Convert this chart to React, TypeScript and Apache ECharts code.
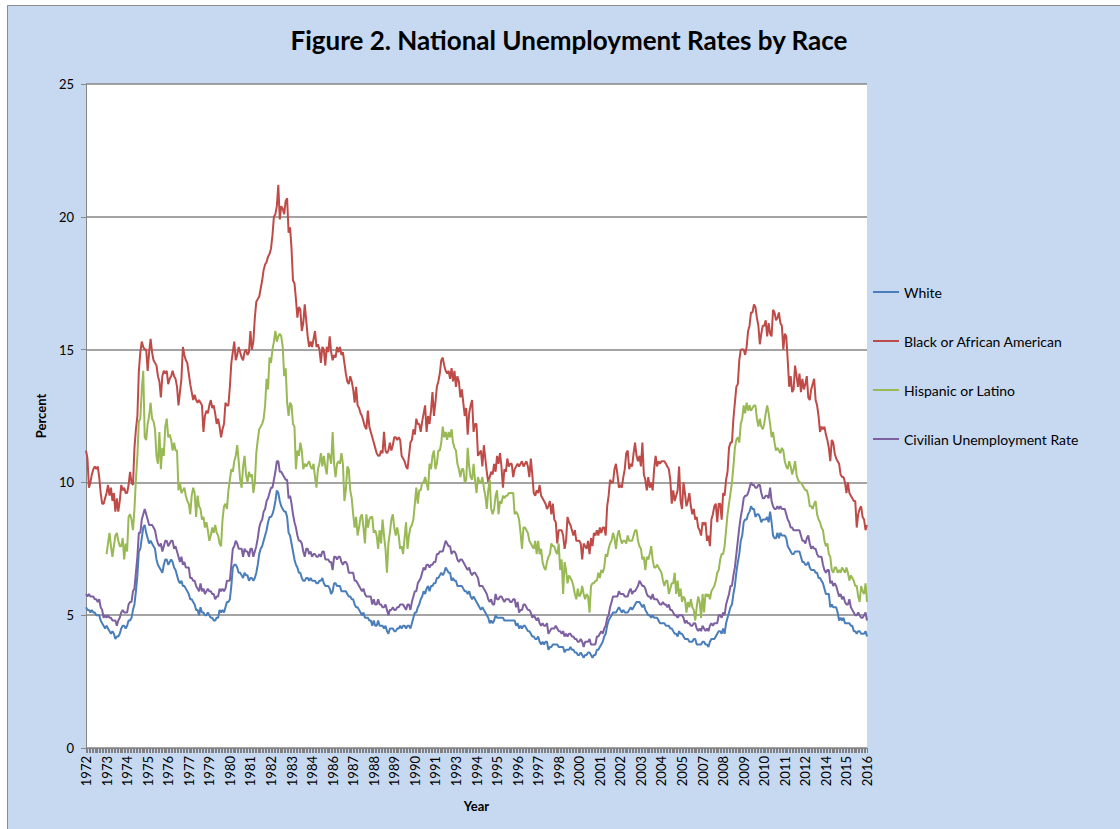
import React, { useEffect, useRef } from "react";
import * as echarts from "echarts";

// Monthly observations, January 1972 to May 2016
const START_YEAR = 1972;
const MONTH_COUNT = 533;
const categories: string[] = Array.from({ length: MONTH_COUNT }, (_, i) => String(START_YEAR + Math.floor(i / 12)));

const seriesNames = ["White", "Black or African American", "Hispanic or Latino", "Civilian Unemployment Rate"];

const white: number[] = [
  5.3, 5.2, 5.2, 5.1, 5.2, 5.1, 5.1, 5.0, 5.0, 5.0, 4.8, 4.7,
  4.6, 4.5, 4.6, 4.5, 4.4, 4.3, 4.4, 4.3, 4.1, 4.2, 4.2, 4.3,
  4.5, 4.6, 4.6, 4.5, 4.6, 4.8, 4.8, 4.9, 5.2, 5.4, 5.9, 6.5,
  7.4, 7.5, 7.9, 8.3, 8.4, 8.1, 7.9, 7.7, 7.8, 7.7, 7.6, 7.5,
  7.1, 6.9, 6.8, 6.7, 6.6, 6.9, 7.1, 7.1, 6.9, 7.0, 7.1, 7.0,
  6.8, 6.7, 6.5, 6.3, 6.2, 6.3, 6.1, 6.1, 6.0, 5.9, 5.8, 5.6,
  5.6, 5.5, 5.4, 5.2, 5.2, 5.0, 5.3, 5.1, 5.1, 5.0, 5.0, 5.1,
  5.0, 4.9, 4.9, 4.8, 4.8, 4.9, 4.9, 5.2, 5.1, 5.2, 5.1, 5.3,
  5.5, 5.5, 5.6, 6.1, 6.8, 6.9, 6.9, 6.8, 6.6, 6.6, 6.5, 6.4,
  6.6, 6.5, 6.5, 6.3, 6.4, 6.4, 6.3, 6.4, 6.6, 6.9, 7.3, 7.5,
  7.6, 7.8, 8.0, 8.2, 8.5, 8.7, 8.7, 8.8, 9.0, 9.3, 9.7, 9.6,
  9.3, 9.1, 9.0, 8.9, 8.9, 8.7, 8.1, 8.0, 7.7, 7.4, 7.1, 6.9,
  6.8, 6.6, 6.6, 6.4, 6.3, 6.3, 6.4, 6.4, 6.3, 6.4, 6.3, 6.3,
  6.3, 6.2, 6.2, 6.3, 6.3, 6.4, 6.2, 6.1, 6.1, 6.1, 6.0, 5.8,
  5.9, 6.2, 6.2, 6.1, 6.1, 6.1, 5.9, 5.9, 5.9, 5.9, 5.8, 5.7,
  5.7, 5.6, 5.6, 5.4, 5.3, 5.3, 5.2, 5.1, 5.0, 5.1, 4.9, 4.9,
  4.9, 4.8, 4.8, 4.6, 4.8, 4.6, 4.6, 4.8, 4.6, 4.6, 4.6, 4.5,
  4.6, 4.4, 4.3, 4.5, 4.5, 4.5, 4.4, 4.4, 4.5, 4.5, 4.6, 4.5,
  4.6, 4.6, 4.5, 4.6, 4.6, 4.5, 4.7, 4.9, 5.1, 5.1, 5.3, 5.4,
  5.6, 5.7, 5.9, 5.8, 6.0, 6.1, 5.9, 6.1, 6.1, 6.2, 6.2, 6.4,
  6.4, 6.5, 6.6, 6.5, 6.6, 6.8, 6.7, 6.6, 6.6, 6.3, 6.4, 6.3,
  6.3, 6.1, 6.1, 6.1, 6.1, 6.0, 5.9, 5.9, 5.8, 5.9, 5.7, 5.6,
  5.7, 5.6, 5.5, 5.4, 5.3, 5.2, 5.3, 5.2, 5.1, 5.0, 4.9, 4.7,
  4.8, 4.7, 4.8, 5.0, 4.9, 4.9, 4.9, 4.9, 4.9, 4.8, 4.8, 4.8,
  4.8, 4.8, 4.8, 4.8, 4.8, 4.6, 4.7, 4.5, 4.6, 4.5, 4.6, 4.6,
  4.5, 4.4, 4.4, 4.3, 4.2, 4.2, 4.1, 4.1, 4.2, 4.0, 3.9, 4.0,
  3.9, 4.0, 4.0, 3.7, 3.8, 3.8, 3.9, 3.9, 3.9, 3.9, 3.8, 3.8,
  3.8, 3.8, 3.6, 3.7, 3.7, 3.7, 3.8, 3.7, 3.7, 3.6, 3.6, 3.5,
  3.5, 3.6, 3.5, 3.4, 3.5, 3.5, 3.6, 3.6, 3.5, 3.4, 3.5, 3.5,
  3.7, 3.7, 3.8, 3.9, 4.0, 4.2, 4.3, 4.6, 4.8, 4.9, 5.0, 5.1,
  5.1, 5.1, 5.2, 5.3, 5.2, 5.1, 5.2, 5.1, 5.1, 5.1, 5.2, 5.3,
  5.2, 5.3, 5.4, 5.5, 5.5, 5.5, 5.4, 5.3, 5.4, 5.2, 5.1, 5.0,
  5.0, 4.9, 5.0, 4.9, 4.9, 4.9, 4.8, 4.7, 4.7, 4.7, 4.7, 4.6,
  4.6, 4.6, 4.5, 4.5, 4.4, 4.3, 4.3, 4.2, 4.4, 4.3, 4.3, 4.2,
  4.1, 4.1, 4.1, 4.0, 4.0, 4.0, 4.1, 4.1, 3.9, 3.9, 3.9, 3.9,
  4.0, 4.0, 3.9, 3.9, 3.8, 4.0, 4.1, 4.1, 4.1, 4.2, 4.3, 4.4,
  4.4, 4.3, 4.5, 4.3, 4.7, 4.9, 5.1, 5.3, 5.4, 5.8, 6.1, 6.6,
  7.0, 7.3, 7.8, 8.0, 8.5, 8.6, 8.6, 8.8, 8.9, 9.1, 9.0, 9.0,
  8.7, 8.8, 8.8, 8.7, 8.5, 8.6, 8.6, 8.6, 8.7, 8.5, 8.9, 8.5,
  8.0, 7.9, 7.9, 8.1, 7.9, 8.1, 8.0, 8.0, 8.0, 7.9, 7.6, 7.5,
  7.4, 7.3, 7.3, 7.4, 7.4, 7.4, 7.4, 7.2, 7.0, 7.0, 6.9, 6.9,
  7.0, 6.8, 6.7, 6.7, 6.7, 6.6, 6.6, 6.4, 6.4, 6.3, 6.2, 6.0,
  5.8, 5.8, 5.8, 5.3, 5.4, 5.3, 5.3, 5.3, 5.1, 4.8, 4.9, 4.8,
  4.9, 4.7, 4.7, 4.7, 4.7, 4.6, 4.6, 4.4, 4.4, 4.3, 4.4, 4.4,
  4.3, 4.3, 4.3, 4.4, 4.2,
];

const black: number[] = [
  11.2, 10.9, 9.8, 10.0, 10.3, 10.5, 10.6, 10.5, 10.6, 10.2, 9.6, 9.2,
  9.2, 9.4, 9.6, 9.9, 9.5, 9.8, 9.3, 9.6, 8.9, 9.4, 8.9, 9.3,
  9.9, 9.7, 9.8, 9.6, 9.6, 9.9, 10.4, 10.0, 9.9, 11.3, 12.0, 12.5,
  14.2, 14.9, 15.3, 15.1, 15.0, 15.0, 14.2, 14.9, 15.4, 14.9, 14.6, 14.5,
  14.4, 14.0, 13.8, 13.2, 14.0, 14.2, 14.1, 14.2, 13.7, 13.9, 14.0, 14.2,
  14.0, 13.9, 13.6, 12.9, 13.4, 13.9, 15.1, 14.8, 14.6, 14.5, 14.1, 13.7,
  13.4, 13.1, 13.3, 13.1, 13.0, 13.1, 13.0, 12.9, 11.9, 12.5, 12.7, 12.6,
  12.9, 13.1, 12.8, 12.9, 12.6, 12.2, 12.4, 12.1, 11.7, 12.0, 12.2, 13.0,
  12.9, 12.9, 13.6, 14.5, 14.9, 15.3, 14.6, 14.8, 15.1, 14.9, 14.7, 14.6,
  14.9, 15.0, 14.8, 14.9, 15.7, 15.0, 15.3, 16.2, 16.8, 16.9, 17.0, 17.3,
  17.6, 18.0, 18.2, 18.3, 18.5, 18.6, 18.8, 19.3, 20.0, 20.1, 20.4, 21.2,
  19.9, 20.4, 20.3, 20.1, 20.6, 20.7, 19.4, 19.6, 18.8, 17.6, 17.5, 16.9,
  16.2, 16.6, 16.5, 15.7, 16.0, 16.7, 16.1, 15.5, 15.1, 15.3, 15.1, 15.4,
  15.7, 15.1, 15.2, 15.0, 14.5, 15.1, 15.0, 14.4, 15.1, 14.9, 15.5, 14.9,
  14.6, 14.8, 14.7, 15.1, 14.9, 15.1, 14.8, 14.9, 14.5, 14.1, 13.8, 13.7,
  14.0, 13.8, 13.5, 13.0, 13.6, 12.9, 12.8, 12.6, 12.5, 12.3, 12.1, 12.0,
  12.7, 12.1, 11.9, 11.7, 11.5, 11.3, 11.1, 11.0, 11.0, 11.2, 11.1, 11.9,
  11.2, 11.1, 11.2, 11.5, 11.2, 11.4, 11.7, 11.7, 11.6, 11.7, 11.6, 11.0,
  10.9, 10.8, 10.6, 10.5, 11.0, 11.5, 11.6, 12.0, 11.8, 12.4, 12.2, 12.2,
  11.9, 12.3, 12.6, 12.9, 11.9, 12.5, 12.2, 12.7, 13.4, 12.5, 13.0, 13.6,
  13.8, 14.1, 14.6, 14.7, 14.4, 14.2, 14.1, 14.2, 13.9, 14.3, 13.8, 14.2,
  13.6, 14.0, 13.8, 13.2, 13.5, 13.0, 12.5, 12.8, 11.8, 12.6, 12.9, 13.1,
  11.9, 12.2, 12.2, 11.0, 11.1, 11.2, 10.6, 11.4, 10.9, 10.4, 10.0, 10.2,
  10.4, 10.3, 10.7, 10.4, 11.0, 10.7, 11.1, 10.6, 9.8, 10.5, 10.4, 10.9,
  10.6, 10.7, 10.7, 10.2, 10.5, 10.6, 10.7, 10.6, 10.7, 10.8, 10.6, 10.7,
  10.8, 10.6, 10.2, 10.9, 10.3, 9.6, 9.5, 9.7, 9.6, 9.9, 9.5, 9.4,
  9.3, 9.2, 9.0, 9.1, 9.3, 8.8, 9.2, 8.6, 8.5, 7.7, 8.2, 8.2,
  8.2, 8.0, 7.5, 7.8, 8.7, 8.5, 8.4, 8.2, 8.0, 8.2, 7.8, 7.8,
  7.8, 7.7, 7.1, 7.7, 7.6, 7.5, 7.8, 7.3, 7.9, 7.6, 8.1, 8.0,
  8.2, 8.0, 8.3, 8.1, 8.3, 8.3, 8.0, 9.1, 9.5, 10.1, 10.0, 10.0,
  10.5, 10.7, 10.3, 9.8, 9.9, 9.8, 10.2, 10.5, 11.1, 11.2, 10.5, 10.7,
  10.6, 11.1, 11.5, 11.0, 10.8, 11.0, 10.6, 11.5, 10.3, 10.1, 9.7, 10.2,
  9.8, 10.0, 9.7, 10.5, 11.0, 10.6, 10.8, 10.7, 10.8, 10.8, 10.8, 10.7,
  10.6, 10.5, 10.1, 9.2, 9.7, 9.3, 9.5, 9.7, 10.6, 9.3, 9.0, 10.0,
  9.6, 9.1, 9.3, 9.6, 9.1, 8.8, 9.0, 8.6, 8.7, 8.3, 8.2, 8.0,
  8.5, 8.4, 8.5, 7.8, 8.0, 7.6, 8.6, 8.8, 9.1, 9.2, 8.5, 9.2,
  9.2, 8.6, 9.6, 9.5, 10.1, 10.4, 11.3, 11.5, 11.5, 12.4, 13.0, 13.6,
  13.7, 14.6, 15.0, 15.0, 15.0, 14.8, 15.1, 15.7, 15.9, 16.4, 16.4, 16.7,
  16.6, 16.2, 15.9, 15.2, 15.6, 15.9, 15.9, 16.1, 15.5, 16.0, 15.6, 15.5,
  16.5, 16.4, 16.1, 16.2, 16.4, 16.0, 15.9, 15.0, 15.6, 15.5, 14.6, 13.6,
  14.0, 13.4, 13.5, 14.4, 14.0, 13.6, 14.1, 13.4, 13.9, 13.5, 13.7, 14.0,
  13.2, 13.1, 13.5, 13.7, 13.9, 13.1, 12.9, 12.5, 11.9, 12.1, 12.0, 12.1,
  11.8, 11.6, 11.3, 10.8, 11.6, 11.5, 11.1, 10.9, 10.8, 10.7, 10.3, 10.2,
  10.2, 10.0, 9.6, 10.0, 9.6, 9.5, 9.4, 9.3, 9.3, 8.3, 8.8, 9.0,
  9.1, 8.7, 8.6, 8.2, 8.4,
];

const hispanic: (number | null)[] = [
  null, null, null, null, null, null, null, null, null, null, null, null,
  null, null, 7.3, 7.7, 8.1, 7.6, 7.2, 7.6, 8.0, 8.1, 7.8, 7.6,
  7.6, 7.9, 7.1, 7.7, 7.4, 8.7, 8.8, 8.6, 8.2, 9.0, 10.1, 11.0,
  12.3, 12.4, 13.5, 14.2, 11.7, 11.6, 12.2, 12.5, 13.0, 12.4, 12.3, 12.0,
  11.0, 10.7, 11.9, 10.5, 11.3, 11.0, 12.1, 12.4, 11.7, 11.8, 11.6, 11.2,
  11.5, 11.2, 11.2, 9.7, 10.0, 9.6, 9.7, 9.8, 9.5, 9.3, 9.2, 8.8,
  9.5, 9.8, 9.6, 8.7, 9.5, 9.1, 9.0, 8.6, 8.7, 8.3, 8.5, 8.2,
  7.8, 8.0, 8.3, 8.1, 8.4, 8.1, 8.0, 7.7, 7.6, 8.6, 9.1, 9.2,
  9.0, 9.7, 10.1, 10.5, 10.4, 10.8, 11.0, 11.4, 10.8, 10.1, 9.8, 10.6,
  11.0, 10.3, 10.0, 10.4, 10.2, 10.3, 9.6, 10.0, 11.1, 11.6, 12.0, 12.1,
  12.2, 12.4, 12.9, 13.9, 13.5, 14.7, 14.5, 15.0, 15.3, 15.7, 15.3, 15.5,
  15.6, 15.5, 15.1, 14.0, 14.3, 13.0, 12.5, 13.0, 12.9, 12.2, 12.1, 10.5,
  11.2, 11.0, 11.5, 11.2, 10.5, 10.7, 10.6, 10.7, 10.8, 10.6, 10.5, 10.7,
  10.2, 9.8, 10.5, 10.7, 11.1, 10.6, 11.0, 10.6, 10.3, 11.1, 11.0, 10.7,
  11.9, 10.7, 10.2, 10.7, 10.8, 10.7, 11.1, 10.7, 9.3, 9.7, 10.6, 10.5,
  9.7, 9.4, 8.8, 8.3, 8.7, 8.0, 8.3, 8.7, 8.8, 8.3, 7.7, 8.8,
  8.3, 8.6, 8.7, 8.7, 8.1, 8.2, 8.0, 7.5, 8.2, 7.7, 8.6, 8.0,
  7.5, 6.6, 7.7, 8.1, 8.6, 8.8, 8.3, 8.0, 8.3, 8.0, 7.5, 7.6,
  7.3, 7.9, 8.5, 7.5, 8.0, 8.3, 8.4, 8.6, 9.2, 9.8, 9.2, 9.7,
  9.7, 10.0, 10.0, 10.2, 10.0, 9.7, 10.7, 10.5, 11.0, 11.2, 10.5, 10.7,
  11.2, 11.2, 11.5, 12.1, 11.7, 11.9, 11.6, 11.9, 11.7, 12.0, 11.5, 11.3,
  11.2, 10.7, 10.5, 10.2, 10.5, 10.5, 10.0, 10.1, 11.3, 10.6, 10.2, 10.1,
  10.7, 10.1, 9.6, 10.2, 10.0, 10.0, 10.2, 9.8, 9.5, 9.0, 9.7, 10.1,
  9.0, 8.8, 9.0, 9.5, 9.7, 8.8, 9.3, 9.2, 9.5, 9.4, 9.5, 9.5,
  9.6, 9.6, 9.6, 9.6, 8.8, 8.9, 8.8, 8.6, 8.1, 7.5, 8.3, 8.3,
  8.2, 8.1, 7.8, 7.7, 7.6, 7.5, 7.8, 7.3, 7.8, 7.3, 7.5, 7.0,
  6.8, 6.7, 7.0, 7.2, 7.3, 7.7, 7.6, 7.6, 7.4, 7.3, 7.7, 6.7,
  7.1, 5.8, 7.0, 6.7, 6.2, 6.5, 6.4, 6.3, 6.1, 5.8, 5.6, 6.0,
  5.7, 5.8, 6.1, 5.8, 5.6, 5.8, 5.7, 5.1, 6.1, 6.2, 6.2, 6.3,
  6.3, 6.6, 6.4, 6.7, 6.6, 6.8, 7.3, 7.2, 7.5, 7.7, 7.8, 8.1,
  7.9, 7.5, 8.0, 8.2, 7.9, 7.7, 7.8, 7.8, 7.7, 8.0, 7.8, 7.8,
  7.8, 8.0, 8.2, 8.2, 7.8, 7.6, 7.5, 7.1, 7.2, 6.7, 7.2, 7.1,
  7.3, 7.6, 7.1, 6.8, 6.8, 6.9, 6.8, 6.7, 6.6, 6.3, 6.1, 6.3,
  6.3, 5.8, 6.0, 6.2, 6.2, 6.6, 5.8, 6.3, 5.7, 6.0, 5.5, 5.7,
  5.6, 5.1, 5.5, 5.3, 5.6, 5.3, 5.2, 4.8, 5.3, 5.7, 5.5, 4.9,
  5.8, 5.1, 5.8, 5.7, 5.8, 5.6, 5.9, 6.0, 6.1, 6.3, 6.6, 6.7,
  7.1, 7.3, 7.3, 7.6, 8.2, 8.8, 9.2, 9.6, 10.0, 10.6, 11.3, 11.6,
  11.7, 11.5, 12.2, 12.4, 12.9, 12.6, 13.0, 12.7, 12.9, 12.7, 12.8, 12.9,
  12.9, 12.4, 12.1, 12.4, 12.1, 12.0, 12.2, 12.6, 12.9, 12.6, 12.2, 11.7,
  11.9, 11.5, 11.2, 11.3, 11.2, 11.1, 11.3, 11.2, 10.8, 10.6, 10.5, 10.8,
  10.6, 10.3, 10.5, 10.8, 10.3, 10.1, 10.0, 10.0, 9.9, 9.8, 9.7, 9.7,
  9.5, 9.1, 9.1, 9.0, 9.2, 9.3, 8.8, 8.6, 8.5, 8.3, 8.2, 7.8,
  7.6, 7.7, 7.3, 7.2, 6.7, 6.6, 6.8, 6.8, 6.6, 6.7, 6.6, 6.8,
  6.7, 6.6, 6.8, 6.6, 6.3, 6.5, 6.4, 6.3, 6.1, 6.1, 5.7, 5.5,
  6.1, 5.9, 5.8, 6.2, 5.5,
];

const civilian: number[] = [
  5.8, 5.7, 5.8, 5.7, 5.7, 5.7, 5.6, 5.6, 5.5, 5.6, 5.3, 5.2,
  4.9, 5.0, 4.9, 5.0, 4.9, 4.9, 4.8, 4.8, 4.8, 4.6, 4.8, 4.9,
  5.1, 5.2, 5.1, 5.1, 5.1, 5.4, 5.5, 5.5, 5.9, 6.0, 6.6, 7.2,
  8.1, 8.1, 8.6, 8.8, 9.0, 8.8, 8.6, 8.4, 8.4, 8.4, 8.3, 8.2,
  7.9, 7.7, 7.6, 7.7, 7.4, 7.6, 7.8, 7.8, 7.6, 7.7, 7.8, 7.8,
  7.5, 7.6, 7.4, 7.2, 7.0, 7.2, 6.9, 7.0, 6.8, 6.8, 6.8, 6.4,
  6.4, 6.3, 6.3, 6.1, 6.0, 5.9, 6.2, 5.9, 6.0, 5.8, 5.9, 6.0,
  5.9, 5.9, 5.8, 5.8, 5.6, 5.7, 5.7, 6.0, 5.9, 6.0, 5.9, 6.0,
  6.3, 6.3, 6.3, 6.9, 7.5, 7.6, 7.8, 7.7, 7.5, 7.5, 7.5, 7.2,
  7.5, 7.4, 7.4, 7.2, 7.5, 7.5, 7.2, 7.4, 7.6, 7.9, 8.3, 8.5,
  8.6, 8.9, 9.0, 9.3, 9.4, 9.6, 9.8, 9.8, 10.1, 10.4, 10.8, 10.8,
  10.4, 10.4, 10.3, 10.2, 10.1, 10.1, 9.4, 9.5, 9.2, 8.8, 8.5, 8.3,
  8.0, 7.8, 7.8, 7.7, 7.4, 7.2, 7.5, 7.5, 7.3, 7.4, 7.2, 7.3,
  7.3, 7.2, 7.2, 7.3, 7.2, 7.4, 7.4, 7.1, 7.1, 7.1, 7.0, 7.0,
  6.7, 7.2, 7.2, 7.1, 7.2, 7.2, 7.0, 6.9, 7.0, 7.0, 6.9, 6.6,
  6.6, 6.6, 6.6, 6.3, 6.3, 6.2, 6.1, 6.0, 5.9, 6.0, 5.8, 5.7,
  5.7, 5.7, 5.7, 5.4, 5.6, 5.4, 5.4, 5.6, 5.4, 5.4, 5.3, 5.3,
  5.4, 5.2, 5.0, 5.2, 5.2, 5.3, 5.2, 5.2, 5.3, 5.3, 5.4, 5.4,
  5.4, 5.3, 5.2, 5.4, 5.4, 5.2, 5.5, 5.7, 5.9, 5.9, 6.2, 6.3,
  6.4, 6.6, 6.8, 6.7, 6.9, 6.9, 6.8, 6.9, 6.9, 7.0, 7.0, 7.3,
  7.3, 7.4, 7.4, 7.4, 7.6, 7.8, 7.7, 7.6, 7.6, 7.3, 7.4, 7.4,
  7.3, 7.1, 7.0, 7.1, 7.1, 7.0, 6.9, 6.8, 6.7, 6.8, 6.6, 6.5,
  6.6, 6.6, 6.5, 6.4, 6.1, 6.1, 6.1, 6.0, 5.9, 5.8, 5.6, 5.5,
  5.6, 5.4, 5.4, 5.8, 5.6, 5.6, 5.7, 5.7, 5.6, 5.5, 5.6, 5.6,
  5.6, 5.5, 5.5, 5.6, 5.6, 5.3, 5.5, 5.1, 5.2, 5.2, 5.4, 5.4,
  5.3, 5.2, 5.2, 5.1, 4.9, 5.0, 4.9, 4.8, 4.9, 4.7, 4.6, 4.7,
  4.6, 4.6, 4.7, 4.3, 4.4, 4.5, 4.5, 4.5, 4.6, 4.5, 4.4, 4.4,
  4.3, 4.4, 4.2, 4.3, 4.2, 4.3, 4.3, 4.2, 4.2, 4.1, 4.1, 4.0,
  4.0, 4.1, 4.0, 3.8, 4.0, 4.0, 4.0, 4.1, 3.9, 3.9, 3.9, 3.9,
  4.2, 4.2, 4.3, 4.4, 4.3, 4.5, 4.6, 4.9, 5.0, 5.3, 5.5, 5.7,
  5.7, 5.7, 5.7, 5.9, 5.8, 5.8, 5.8, 5.7, 5.7, 5.7, 5.9, 6.0,
  5.8, 5.9, 5.9, 6.0, 6.1, 6.3, 6.2, 6.1, 6.1, 6.0, 5.8, 5.7,
  5.7, 5.6, 5.8, 5.6, 5.6, 5.6, 5.5, 5.4, 5.4, 5.5, 5.4, 5.4,
  5.3, 5.4, 5.2, 5.2, 5.1, 5.0, 5.0, 4.9, 5.0, 5.0, 5.0, 4.9,
  4.7, 4.8, 4.7, 4.7, 4.6, 4.6, 4.7, 4.7, 4.5, 4.4, 4.5, 4.4,
  4.6, 4.5, 4.4, 4.5, 4.4, 4.6, 4.7, 4.6, 4.7, 4.7, 4.7, 5.0,
  5.0, 4.9, 5.1, 5.0, 5.4, 5.6, 5.8, 6.1, 6.1, 6.5, 6.8, 7.3,
  7.8, 8.3, 8.7, 9.0, 9.4, 9.5, 9.5, 9.6, 9.8, 10.0, 9.9, 9.9,
  9.8, 9.8, 9.9, 9.9, 9.6, 9.4, 9.4, 9.5, 9.5, 9.4, 9.8, 9.3,
  9.1, 9.0, 9.0, 9.1, 9.0, 9.1, 9.0, 9.0, 9.0, 8.8, 8.6, 8.5,
  8.3, 8.3, 8.2, 8.2, 8.2, 8.2, 8.2, 8.0, 7.8, 7.8, 7.7, 7.9,
  8.0, 7.7, 7.5, 7.6, 7.5, 7.5, 7.3, 7.2, 7.2, 7.2, 6.9, 6.7,
  6.6, 6.7, 6.7, 6.2, 6.3, 6.1, 6.2, 6.1, 5.9, 5.7, 5.8, 5.6,
  5.7, 5.5, 5.4, 5.4, 5.6, 5.3, 5.2, 5.1, 5.0, 5.0, 5.1, 5.0,
  4.9, 4.9, 5.0, 5.1, 4.8,
];

const seriesColors = ["#4A7EBB", "#BE4B48", "#98B954", "#7D60A0"];
const FONT = "Lato, 'Open Sans', sans-serif";

export default function App() {
  const ref = useRef<HTMLDivElement>(null);

  useEffect(() => {
    document.body.style.margin = "0";
    if (!ref.current) return;
    const chart = echarts.init(ref.current, undefined, { renderer: "svg" });
    const allData = [white, black, hispanic, civilian];
    chart.setOption({
      animation: false,
      backgroundColor: "#C6D9F1",
      graphic: [
        { type: "rect", shape: { x: 0, y: 0, width: 1120, height: 5 }, style: { fill: "#FFFFFF" }, silent: true },
        { type: "rect", shape: { x: 0, y: 0, width: 7, height: 829 }, style: { fill: "#FFFFFF" }, silent: true },
        { type: "line", shape: { x1: 7.5, y1: 5.5, x2: 1120, y2: 5.5 }, style: { stroke: "#8C8C8C", lineWidth: 1 }, silent: true },
        { type: "line", shape: { x1: 7.5, y1: 5.5, x2: 7.5, y2: 829 }, style: { stroke: "#8C8C8C", lineWidth: 1 }, silent: true },
        {
          type: "text",
          x: 569,
          y: 40,
          silent: true,
          style: {
            text: "Figure 2. National Unemployment Rates by Race",
            fontSize: 26,
            fontWeight: "bold",
            fontFamily: FONT,
            fill: "#000000",
            align: "center",
            verticalAlign: "middle",
          },
        },
      ],
      grid: {
        left: 86,
        top: 84,
        right: 253,
        bottom: 81,
        show: true,
        backgroundColor: "#FFFFFF",
        borderWidth: 0,
        containLabel: false,
      },
      legend: {
        orient: "vertical",
        left: 868,
        top: 280,
        padding: 5,
        itemWidth: 26,
        itemHeight: 14,
        itemGap: 35,
        icon: "path://M0 0 H26 V2 H0 Z",
        textStyle: { fontFamily: FONT, fontSize: 14, color: "#000000" },
        data: seriesNames,
      },
      xAxis: {
        type: "category",
        data: categories,
        boundaryGap: false,
        axisLine: { show: true, lineStyle: { color: "#868686", width: 1 } },
        axisTick: { show: true, interval: 0, length: 5, lineStyle: { color: "#808080", width: 1 } },
        axisLabel: { interval: 13, rotate: 90, fontFamily: FONT, fontSize: 13, color: "#000000", margin: 8 },
        splitLine: { show: false },
        name: "Year",
        nameLocation: "middle",
        nameGap: 51,
        nameTextStyle: { fontFamily: FONT, fontSize: 13, fontWeight: "bold", color: "#000000" },
      },
      yAxis: {
        type: "value",
        min: 0,
        max: 25,
        interval: 5,
        axisLine: { show: true, lineStyle: { color: "#868686", width: 1 } },
        axisTick: { show: true, length: 5, lineStyle: { color: "#868686" } },
        axisLabel: { fontFamily: FONT, fontSize: 13, color: "#000000", margin: 12 },
        splitLine: { show: true, lineStyle: { color: "#868686", width: 1.5 } },
        name: "Percent",
        nameLocation: "middle",
        nameGap: 39,
        nameRotate: 90,
        nameTextStyle: { fontFamily: FONT, fontSize: 13, fontWeight: "bold", color: "#000000" },
      },
      series: seriesNames.map((name, k) => ({
        name,
        type: "line",
        data: allData[k],
        symbol: "none",
        showSymbol: false,
        connectNulls: false,
        lineStyle: { color: seriesColors[k], width: 2 },
        itemStyle: { color: seriesColors[k] },
        emphasis: { disabled: true },
      })),
    });
    return () => chart.dispose();
  }, []);

  return <div ref={ref} style={{ width: 1120, height: 829 }} />;
}
